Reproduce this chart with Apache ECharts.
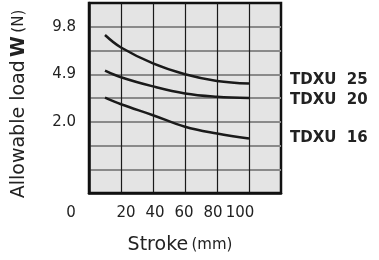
<!DOCTYPE html>
<html>
<head>
<meta charset="utf-8">
<script src="https://cdn.jsdelivr.net/npm/echarts@6/dist/echarts.min.js"></script>
<style>
html,body{margin:0;padding:0;background:#fff;}
#chart{width:379px;height:260px;}
</style>
</head>
<body>
<div id="chart"></div>
<script>
var strokes=[10,20,40,60,80,100];
var loadTDXU25=[8.95,7.66,6.02,4.9,4.49,4.33];
var loadTDXU20=[5.28,4.72,4.16,3.73,3.53,3.45];
var loadTDXU16=[3.47,3.07,2.4,1.86,1.67,1.53];
var seriesNames=["TDXU  25","TDXU  20","TDXU  16"];
var xTicks=[0,20,40,60,80,100];
// the load axis is not linear: each labelled value sits on a fixed grid row
var yKnots=[0,2.0,4.9,9.8];
var yRows=[0,3,5,7];

function toRow(n){
	for(var i=1;i<yKnots.length;i++){
		if(n<=yKnots[i]||i==yKnots.length-1){
			var a=yKnots[i-1],b=yKnots[i];
			return yRows[i-1]+(n-a)/(b-a)*(yRows[i]-yRows[i-1]);
		}
	}
}
function pairs(vals){
	var r=[];
	for(var i=0;i<strokes.length;i++){
		r[r.length]=[strokes[i],toRow(vals[i])];
	}
	return r;
}

var font="DejaVu Sans";
var labelShift={0:-18,20:5,40:2,60:-1,80:-4,100:-9};
var xRich={};
for(var k in labelShift){
	var d=labelShift[k];
	xRich["x"+k]={fontFamily:font,fontSize:15,color:"#222",padding:d<0?[0,-2*d,0,0]:[0,0,0,2*d]};
}

var lineStyle={color:"#1a1a1a",width:2.5};
var allLoads=[loadTDXU25,loadTDXU20,loadTDXU16];
var endOffsets=[[0,-3],[0,2],[0,0]];
var series=[];
for(var i=0;i<allLoads.length;i++){
	series[series.length]={
		name:seriesNames[i],
		type:"line",
		smooth:0.4,
		symbol:"none",
		data:pairs(allLoads[i]),
		lineStyle:lineStyle,
		endLabel:{show:true,formatter:"{a}",distance:41,offset:endOffsets[i],fontFamily:font,fontSize:15,fontWeight:"bold",color:"#222"}
	};
}

var chart=echarts.init(document.getElementById("chart"));
chart.setOption({
	animation:false,
	grid:{left:89,top:3,width:192,height:192,show:true,backgroundColor:"#e4e4e4",borderColor:"#111",borderWidth:2.5},
	xAxis:{
		type:"value",min:0,max:120,interval:20,
		axisLine:{show:true,lineStyle:{color:"#111",width:2.5}},
		axisTick:{show:false},
		splitLine:{show:true,showMinLine:false,showMaxLine:false,lineStyle:{color:"#1a1a1a",width:1.2}},
		axisLabel:{
			margin:13,
			formatter:function(v){
				if(xTicks.indexOf(v)<0){
					return "";
				}
				return "{x"+v+"|"+v+"}";
			},
			rich:xRich
		},
		name:"{a|Stroke} {b|(mm)}",
		nameLocation:"middle",
		nameGap:43,
		nameTextStyle:{
			rich:{
				a:{fontFamily:font,fontSize:19,color:"#222"},
				b:{fontFamily:font,fontSize:15,color:"#222"}
			},
			padding:[0,10,0,0]
		}
	},
	yAxis:{
		type:"value",min:0,max:8,interval:1,
		axisLine:{show:true,lineStyle:{color:"#111",width:2.5}},
		axisTick:{show:false},
		splitLine:{show:true,showMinLine:false,showMaxLine:false,lineStyle:{color:"#8a8a8a",width:2}},
		axisLabel:{
			margin:13,fontFamily:font,fontSize:15,color:"#222",
			formatter:function(v){
				var i=yRows.indexOf(v);
				return i>0?yKnots[i].toFixed(1):"";
			}
		},
		name:"{a|Allowable load} {b|W} {c|(N)}",
		nameLocation:"middle",
		nameRotate:90,
		nameGap:60,
		nameTextStyle:{
			padding:[0,12,0,0],
			rich:{
				a:{fontFamily:font,fontSize:19,color:"#222"},
				b:{fontFamily:font,fontSize:19,fontWeight:"bold",color:"#222"},
				c:{fontFamily:font,fontSize:15,color:"#222"}
			}
		}
	},
	series:series
});
</script>
</body>
</html>
